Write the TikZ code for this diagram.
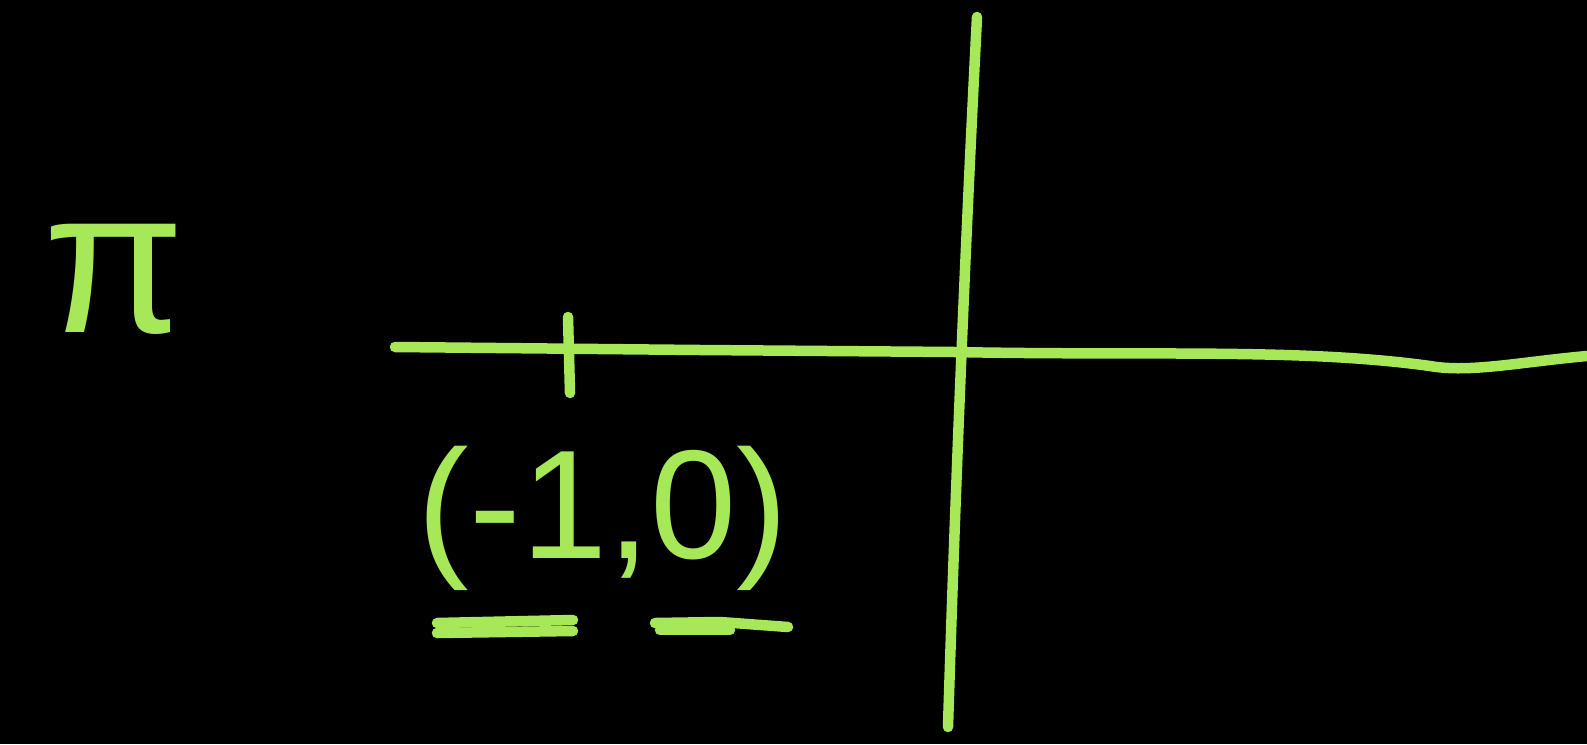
\documentclass[tikz,border=0pt]{standalone}
\usepackage{fontspec}
\setmainfont{Liberation Sans}
\definecolor{chalk}{RGB}{166,232,88}
\tikzset{
  stroke/.style={draw=chalk, line width=10.5pt, line cap=round, line join=round},
  hand/.style={text=chalk, inner sep=0pt, anchor=center}
}
\begin{document}
\begin{tikzpicture}[x=1pt,y=-1pt]
\fill[black] (0,0) rectangle (1587,744);
\useasboundingbox (0,0) rectangle (1587,744);
% vertical axis
\draw[stroke] (977,17) .. controls (965,250) and (955,500) .. (948,727);
% horizontal axis
\draw[stroke] (395,347) -- (700,350) -- (955,352) .. controls (1150,356) and (1300,348) .. (1430,366)
  .. controls (1470,373) and (1520,362) .. (1587,356);
% tick
\draw[stroke] (568,317) -- (570,393);
% pi symbol
\node[hand, font=\fontsize{205}{205}\selectfont] (pi) at (114,279) {π};
% label
\node[hand, font=\fontsize{155}{155}\selectfont] (lbl) at (603,518) {(-1,0)};
% underlines
\draw[stroke] (437,623) -- (573,620);
\draw[stroke] (437,633) -- (573,631);
\draw[stroke] (655,623) -- (720,622) -- (788,627);
\draw[stroke] (660,630) -- (730,630);
\end{tikzpicture}
\end{document}
